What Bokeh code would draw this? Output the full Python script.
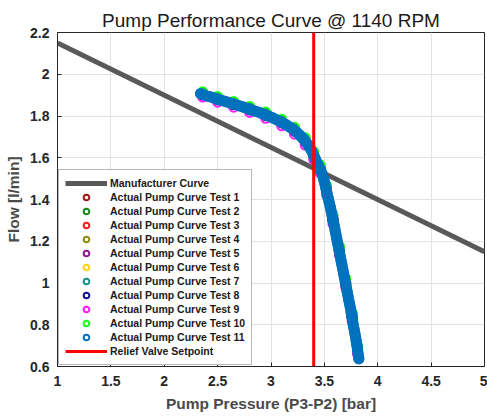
from bokeh.plotting import figure
from bokeh.models import Range1d, FixedTicker, CustomJSTickFormatter
from bokeh.embed import file_html
from bokeh.resources import INLINE

# ---------------- data ----------------
mfr_pressure = [1.0, 5.0]
mfr_flow = [2.15, 1.15]
relief_setpoint = 3.4

x_ticks = [1, 1.5, 2, 2.5, 3, 3.5, 4, 4.5, 5]
y_ticks = [0.6, 0.8, 1.0, 1.2, 1.4, 1.6, 1.8, 2.0, 2.2]

# sparse samples shared by tests 1-10
p_sparse = [2.36, 2.50, 2.65, 2.80, 2.95, 3.10, 3.22, 3.32, 3.40, 3.46, 3.52, 3.58, 3.64, 3.70, 3.76, 3.81]
flow_t1 = [1.906, 1.882, 1.858, 1.834, 1.806, 1.772, 1.733, 1.683, 1.614, 1.550, 1.448, 1.309, 1.157, 1.003, 0.842, 0.684]
flow_t2 = [1.912, 1.889, 1.866, 1.842, 1.815, 1.781, 1.742, 1.692, 1.624, 1.561, 1.462, 1.322, 1.170, 1.016, 0.853, 0.695]
flow_t3 = [1.903, 1.879, 1.856, 1.831, 1.804, 1.769, 1.730, 1.679, 1.611, 1.546, 1.443, 1.303, 1.152, 0.998, 0.836, 0.678]
flow_t4 = [1.905, 1.881, 1.858, 1.833, 1.806, 1.771, 1.732, 1.681, 1.613, 1.549, 1.446, 1.306, 1.155, 1.001, 0.839, 0.681]
flow_t5 = [1.901, 1.877, 1.854, 1.829, 1.802, 1.767, 1.727, 1.676, 1.608, 1.543, 1.440, 1.300, 1.149, 0.995, 0.833, 0.675]
flow_t6 = [1.904, 1.880, 1.857, 1.832, 1.805, 1.770, 1.731, 1.680, 1.612, 1.548, 1.445, 1.305, 1.154, 1.000, 0.838, 0.680]
flow_t7 = [1.906, 1.883, 1.859, 1.835, 1.808, 1.773, 1.734, 1.684, 1.616, 1.552, 1.449, 1.309, 1.158, 1.004, 0.842, 0.684]
flow_t8 = [1.902, 1.878, 1.855, 1.830, 1.803, 1.768, 1.729, 1.678, 1.610, 1.545, 1.442, 1.302, 1.151, 0.997, 0.835, 0.677]
flow_t9 = [1.891, 1.866, 1.842, 1.817, 1.789, 1.753, 1.713, 1.661, 1.592, 1.528, 1.424, 1.284, 1.134, 0.980, 0.819, 0.662]
flow_t10 = [1.916, 1.893, 1.870, 1.846, 1.819, 1.785, 1.746, 1.696, 1.629, 1.566, 1.467, 1.328, 1.176, 1.022, 0.859, 0.701]

# dense samples of test 11
p_t11 = [2.34, 2.38, 2.42, 2.46, 2.50, 2.54, 2.58, 2.62, 2.66, 2.70, 2.74, 2.78, 2.82, 2.86, 2.90,
         2.94, 2.98, 3.02, 3.06, 3.10, 3.14, 3.18, 3.22, 3.25, 3.28, 3.31, 3.34, 3.36, 3.38, 3.40,
         3.42, 3.44, 3.46, 3.48, 3.495, 3.505, 3.515, 3.525, 3.535, 3.545, 3.555, 3.564, 3.573,
         3.582, 3.591, 3.600, 3.608, 3.616, 3.624, 3.632, 3.640, 3.648, 3.656, 3.664, 3.672, 3.680,
         3.688, 3.696, 3.704, 3.712, 3.720, 3.728, 3.736, 3.744, 3.751, 3.758, 3.765, 3.772, 3.779,
         3.786, 3.792, 3.798, 3.804, 3.810, 3.815, 3.820, 3.823]
flow_t11 = [1.907, 1.900, 1.893, 1.887, 1.880, 1.874, 1.868, 1.862, 1.856, 1.849, 1.843, 1.836, 1.829, 1.822, 1.815,
            1.807, 1.799, 1.790, 1.780, 1.770, 1.759, 1.746, 1.731, 1.718, 1.703, 1.686, 1.666, 1.651, 1.634, 1.612,
            1.589, 1.566, 1.545, 1.522, 1.495, 1.475, 1.452, 1.430, 1.408, 1.386, 1.365, 1.343, 1.321,
            1.299, 1.277, 1.255, 1.233, 1.212, 1.191, 1.170, 1.150, 1.129, 1.108, 1.088, 1.067, 1.046,
            1.025, 1.004, 0.983, 0.962, 0.941, 0.920, 0.900, 0.879, 0.858, 0.837, 0.816, 0.795, 0.777,
            0.758, 0.740, 0.722, 0.703, 0.684, 0.665, 0.648, 0.637]

test_labels = ["Actual Pump Curve Test %d" % i for i in range(1, 12)]
test_colors = ["#A01818", "#12891A", "#FF1A1A", "#8C8C10", "#8C1A8C", "#FFD21A",
               "#189090", "#10108C", "#FF1AFF", "#1AFF1A", "#0072BD"]
test_p = [p_sparse] * 10 + [p_t11]
test_f = [flow_t1, flow_t2, flow_t3, flow_t4, flow_t5, flow_t6, flow_t7, flow_t8, flow_t9, flow_t10, flow_t11]

FONT = "Liberation Sans"

p = figure(width=487, height=416, output_backend="svg", toolbar_location=None,
           x_range=Range1d(1, 5), y_range=Range1d(0.6, 2.2),
           min_border_left=57, min_border_right=3, min_border_top=32, min_border_bottom=50)
p.background_fill_color = "white"
p.border_fill_color = "white"
p.outline_line_color = "#262626"
p.outline_line_width = 1

p.title.text = "Pump Performance Curve @ 1140 RPM"
p.title.align = "center"
p.title.text_font = FONT
p.title.text_font_style = "normal"
p.title.text_font_size = "19px"
p.title.text_color = "#1a1a1a"
p.title.standoff = 4

# manufacturer curve
p.line(mfr_pressure, mfr_flow, line_color="#595959", line_width=5, legend_label="Manufacturer Curve")

for i, (xs, ys, c, lab) in enumerate(zip(test_p, test_f, test_colors, test_labels)):
    if i == 10:
        # dense overlapping markers of the last test read as one solid band
        p.line(xs, ys, line_color=c, line_width=11, line_cap="round", line_join="round")
    p.scatter(xs, ys, marker="circle", size=9, fill_color=None, line_color=c, line_width=2,
              legend_label=lab)

p.line([relief_setpoint, relief_setpoint], [y_ticks[0], y_ticks[-1]], line_color="#FF0000",
       line_width=3, legend_label="Relief Valve Setpoint")

fmt = CustomJSTickFormatter(code="return Number(tick.toFixed(2)).toString();")
p.xaxis.ticker = FixedTicker(ticks=x_ticks)
p.yaxis.ticker = FixedTicker(ticks=y_ticks)
p.xaxis.formatter = fmt
p.yaxis.formatter = fmt
for ax in (p.xaxis, p.yaxis):
    ax.major_tick_in = 4
    ax.major_tick_out = 0
    ax.minor_tick_line_color = None
    ax.axis_line_color = "#262626"
    ax.major_tick_line_color = "#262626"
    ax.major_label_text_font = FONT
    ax.major_label_text_font_style = "bold"
    ax.major_label_text_font_size = "14px"
    ax.major_label_text_color = "#262626"
    ax.axis_label_text_font = FONT
    ax.axis_label_text_font_style = "bold"
    ax.axis_label_text_font_size = "15.5px"
    ax.axis_label_text_color = "#4a4a4a"
p.xaxis.axis_label = "Pump Pressure (P3-P2) [bar]"
p.yaxis.axis_label = "Flow [l/min]"
p.xaxis.major_label_standoff = 9
p.xaxis.axis_label_standoff = 6
p.yaxis.major_label_standoff = 8
p.yaxis.axis_label_standoff = 5

p.xgrid.grid_line_color = "#e3e3e3"
p.ygrid.grid_line_color = "#e3e3e3"

lg = p.legend[0]
lg.location = "bottom_left"
lg.margin = 1
lg.padding = 6
lg.spacing = 0
lg.glyph_width = 42
lg.glyph_height = 14
lg.label_height = 14
lg.label_standoff = 3
lg.label_text_font = FONT
lg.label_text_font_style = "bold"
lg.label_text_font_size = "10.5px"
lg.label_text_color = "#1a1a1a"
lg.border_line_color = "#707070"
lg.border_line_width = 1
lg.background_fill_color = "white"
lg.background_fill_alpha = 1

open("out.html", "w").write(file_html(p, INLINE))
